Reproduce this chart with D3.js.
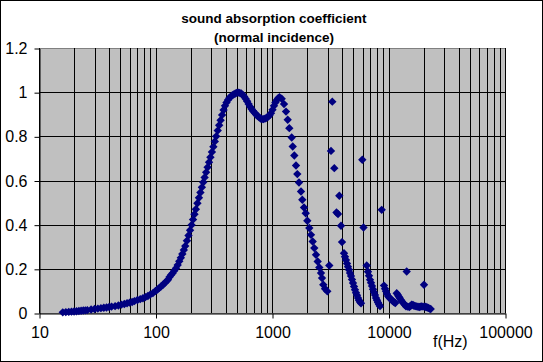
<!DOCTYPE html>
<html>
<head>
<meta charset="utf-8">
<script src="https://cdn.jsdelivr.net/npm/d3@7/dist/d3.min.js"></script>
<style>
body{margin:0;background:#fff;}
svg{display:block;font-family:Arial,"Liberation Sans",sans-serif;}
</style>
</head>
<body>
<div id="chart"></div>
<script>
// chart text
var titleLines = ["sound absorption coefficient", "(normal incidence)"];
var xLabel = "f(Hz)";
var xTickValues = [10, 100, 1000, 10000, 100000];
var yTickValues = [0, 0.2, 0.4, 0.6, 0.8, 1, 1.2];

// measured points: frequency (Hz) and absorption coefficient
var freq = [16,17,18,19,20,21,22,23,24,25,26,28,30,32,34,36,38,40,42,45,48,51,54,57,60,63,66,70,74,78,82,86,90,95,
  100,104,108,112,116,120,124,128,132,136,140,145,150,155,160,165,170,175,180,186,192,198,204,210,216,222,229,236,243,250,257,264,272,280,288,296,
  305,314,323,332,342,352,362,373,384,395,407,419,431,444,457,470,484,498,513,528,544,560,577,594,612,630,649,668,688,709,730,752,775,798,822,846,871,897,924,952,980,
  1010,1040,1070,1100,1130,1160,1211,1268,1319,1364,1408,1476,1506,1554,1607,1649,1705,1774,1820,1883,1947,2010,2091,2161,2235,2307,2386,2467,2547,2634,2687,2756,2851,2983,
  3103,3209,3293,3426,3578,3686,3782,3912,3990,
  4150,4232,4317,4404,4491,4580,4672,4766,4862,4958,5058,5157,5260,5366,5473,5583,5693,5806,
  5958,6101,6501,6668,6801,6937,7076,7218,7362,7508,7658,7812,7968,8128,8291,8453,8741,
  9150,9333,9517,9707,9961,10200,10445,10715,10996,11215,11441,11762,11995,12237,12478,12728,13060,13397,13775,14130,14327,14613,15080,15448,15817,
  16231,16552,16982,17460,17913,18380,18823,19275,19780,20170,20573,20985,21490,21960,22480,23020];
var alpha = [.003,.004,.005,.006,.007,.008,.009,.010,.011,.012,.013,.016,.018,.020,.022,.024,.025,.027,.029,.031,.034,.038,.041,.044,.047,.050,.054,.059,.063,.067,.072,.077,.083,.090,
  .100,.106,.114,.121,.128,.136,.143,.151,.163,.172,.180,.191,.203,.217,.234,.250,.267,.285,.303,.327,.351,.375,.399,.423,.447,.470,.497,.522,.546,.569,.592,.614,.637,.660,.683,.705,
  .729,.753,.777,.800,.826,.850,.873,.897,.919,.938,.953,.965,.974,.981,.986,.990,.994,.997,.998,.997,.994,.988,.980,.970,.959,.946,.934,.924,.915,.907,.899,.892,.886,.881,.878,.878,.880,.884,.888,.895,.905,
  .920,.938,.953,.965,.973,.977,.970,.946,.912,.875,.837,.795,.754,.713,.668,.629,.591,.550,.513,.478,.452,.418,.385,.354,.324,.294,.264,.233,.206,.181,.158,.128,.110,.098,
  .215,.734,.957,.656,.455,.448,.531,.395,.321,
  .271,.255,.240,.224,.210,.196,.181,.167,.152,.136,.120,.105,.092,.080,.068,.058,.050,.044,
  .694,.387,.215,.187,.169,.151,.137,.122,.108,.094,.081,.068,.058,.048,.039,.031,.467,
  .124,.110,.098,.086,.075,.069,.063,.057,.052,.048,.045,.090,.083,.075,.068,.060,.052,.045,.037,.030,.188,.029,.027,.032,.038,
  .036,.033,.031,.030,.028,.027,.029,.030,.029,.128,.028,.027,.025,.023,.020,.018];

var W = 543, H = 362;
var plot = {left: 39, right: 505, top: 48, bottom: 313};

var svg = d3.select("#chart").append("svg")
  .attr("width", W)
  .attr("height", H);

// outer frame
svg.append("rect")
  .attr("x", 0.5).attr("y", 0.5)
  .attr("width", W - 1).attr("height", H - 1)
  .attr("fill", "#fff")
  .attr("stroke", "#000");

var x = d3.scaleLog().domain([10, 100000]).range([plot.left, plot.right]);
var y = d3.scaleLinear().domain([0, 1.2]).range([plot.bottom, plot.top]);
var crisp = function(v){ return Math.round(v) + 0.5; };

// grey plot area
svg.append("rect")
  .attr("x", plot.left + 0.5).attr("y", plot.top + 0.5)
  .attr("width", plot.right - plot.left).attr("height", plot.bottom - plot.top)
  .attr("fill", "#c0c0c0")
  .attr("stroke", "#808080");

// grid lines
var grid = svg.append("g");
grid.selectAll(".vg")
  .data(x.ticks())
  .enter().append("line")
  .attr("x1", function(d){ return crisp(x(d)); })
  .attr("x2", function(d){ return crisp(x(d)); })
  .attr("y1", plot.top).attr("y2", plot.bottom)
  .attr("stroke", "#000");
grid.selectAll(".hg")
  .data(yTickValues.slice(1, -1))
  .enter().append("line")
  .attr("x1", plot.left).attr("x2", plot.right)
  .attr("y1", function(d){ return crisp(y(d)); })
  .attr("y2", function(d){ return crisp(y(d)); })
  .attr("stroke", "#000");

// axes
var yAxis = svg.append("g")
  .attr("transform", "translate(" + crisp(plot.left) + ",0.5)")
  .call(d3.axisLeft(y).tickValues(yTickValues).tickSize(5).tickSizeOuter(0).tickPadding(7)
    .tickFormat(function(d){ return String(d); }));
var xAxis = svg.append("g")
  .attr("transform", "translate(0.5," + crisp(plot.bottom) + ")")
  .call(d3.axisBottom(x).tickValues(xTickValues).tickSize(5).tickSizeOuter(0).tickPadding(8)
    .tickFormat(function(d){ return String(d); }));
svg.selectAll(".tick line").attr("stroke", "#000");
svg.selectAll(".domain").attr("stroke", "#000");
svg.selectAll(".tick text")
  .attr("fill", "#000")
  .style("font-size", "16px")
  .style("font-family", "Arial, 'Liberation Sans', sans-serif");

// data markers (diamonds)
var pts = freq.map(function(f, i){ return {f: f, a: alpha[i]}; });
svg.append("g").selectAll("path")
  .data(pts)
  .enter().append("path")
  .attr("d", "M0,-4.2L4.2,0L0,4.2L-4.2,0Z")
  .attr("transform", function(d){ return "translate(" + x(d.f) + "," + y(d.a) + ")"; })
  .attr("fill", "#000080");

// titles
svg.append("g").selectAll("text")
  .data(titleLines)
  .enter().append("text")
  .attr("x", 274)
  .attr("y", function(d, i){ return 23 + i * 19; })
  .attr("text-anchor", "middle")
  .style("font-size", "13.5px")
  .style("font-weight", "bold")
  .text(function(d){ return d; });

svg.append("text")
  .attr("x", 433)
  .attr("y", 347)
  .style("font-size", "16px")
  .text(xLabel);
</script>
</body>
</html>
